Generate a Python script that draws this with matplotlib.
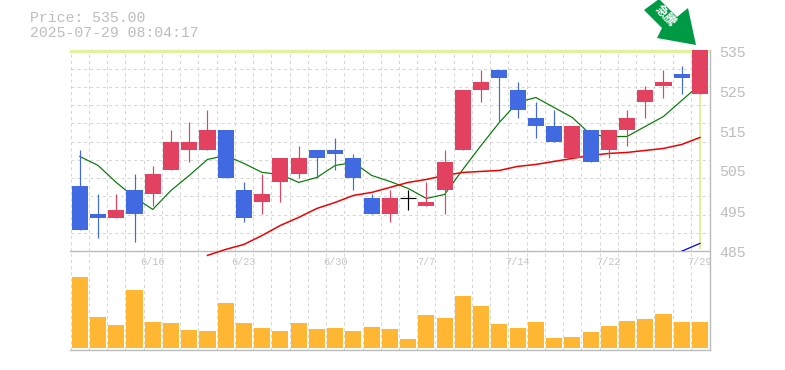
import numpy as np
import matplotlib
matplotlib.use('Agg')
import matplotlib.pyplot as plt
from matplotlib.patches import Polygon

W, H = 785, 370

# 日足: 始値, 終値, 高値, 安値
opens = [501, 494, 493, 500, 499, 505, 510, 510, 515, 500, 497, 502, 504, 510, 510, 508, 498, 494,
         498, 496, 500, 510, 525, 530, 525, 518, 516, 508, 515, 510, 515, 522, 526, 529, 524]
closes = [490, 493, 495, 494, 504, 512, 512, 515, 503, 493, 499, 508, 508, 508, 509, 503, 494, 498,
          498, 497, 507, 525, 527, 528, 520, 516, 512, 516, 507, 515, 518, 525, 527, 528, 535]
highs = [510, 499, 499, 504, 506, 515, 517, 520, 515, 502, 504, 508, 511, 510, 513, 509, 499, 500,
         500, 502, 510, 525, 530, 530, 527, 522, 520, 516, 515, 515, 520, 526, 530, 531, 535]
lows = [490, 488, 493, 487, 496, 505, 507, 510, 503, 492, 494, 497, 503, 503, 505, 500, 494, 492,
        495, 496, 494, 510, 522, 517, 518, 513, 512, 508, 507, 508, 511, 518, 523, 524, 524]
ma5 = [508.5, 506.25, 502, 498.25, 495.25, 500, 503.75, 507.75, 508.75, 506.75, 504.5, 504, 502, 503.25,
       506.25, 507, 503.75, 502.25, 500.5, 498, 499, 505.25, 511.25, 517, 522, 523.25, 520.75, 518.25,
       514, 513.5, 513.5, 516, 518.5, 522.5, 526.5]
ma25 = [np.nan] * 7 + [483.75, 485.25, 486.5, 488.75, 491.25, 493.25, 495.5, 497, 498.75, 499.5, 500.75,
                       502, 502.75, 503.75, 504.5, 504.75, 505, 506, 506.5, 507.25, 508, 508.75, 509.25,
                       509.5, 510, 510.5, 511.5, 513.25]
ma75 = [np.nan] * 33 + [484.8, 486.75]
volumes = [71, 31, 23, 58, 26, 25, 18, 17, 45, 25, 20, 17, 25, 19, 20, 17, 21, 19, 9, 33, 30, 52, 42, 24,
           20, 26, 10, 11, 16, 22, 27, 29, 34, 26, 26]
date_idx = [4, 9, 14, 19, 24, 29, 34]
date_labels = ['6/16', '6/23', '6/30', '7/7', '7/14', '7/22', '7/29']
price_ticks = [535, 525, 515, 505, 495, 485]

UP, DOWN, GRID, TXT = '#e24260', '#4169e1', '#d6d6d6', '#bdbdbd'
MONO = 'Liberation Mono'

fig = plt.figure(figsize=(W / 100, H / 100), dpi=100)

def make_ax(l, t, r, b):
    return fig.add_axes([l / W, 1 - b / H, (r - l) / W, (b - t) / H])

X0, X1 = -0.51, 34.55
ax = make_ax(70.5, 50.5, 710, 251.2)
ax2 = make_ax(70.5, 251.2, 710, 350)
ax.set_xlim(X0, X1); ax2.set_xlim(X0, X1)
ax.set_ylim(484.8, 535)
ax2.set_ylim(-2, 96.8)
ax.set_zorder(2)
ax.patch.set_visible(False)

grid_x = np.arange(35) - 0.5
for a in (ax, ax2):
    a.set_xticks([]); a.set_yticks([])
    for s in a.spines.values():
        s.set_visible(False)
    for gx in grid_x:
        a.axvline(gx, color=GRID, lw=0.75, dashes=(3, 3), zorder=1)
for k in range(1, 11):
    ax.axhline(535 - k * 50.2 / 11, color=GRID, lw=0.75, dashes=(3, 3), zorder=1)

# 最新値のハイライト
ax.plot([X0, X1 - 0.1], [535, 535], color='#dff29c', lw=2.2, zorder=2, clip_on=False)
ax.bar(34, 49.75, bottom=485.25, width=0.16, color='#dff29c', zorder=2)

xs = np.arange(35)
ax.plot(xs, ma5, color='#007a00', lw=0.85, zorder=3)
ax.plot(xs, ma25, color='#f00000', lw=1.1, zorder=3, clip_on=False)
ax.plot(xs, ma75, color='#0000e0', lw=0.9, zorder=3)

for i in range(35):
    o, c = opens[i], closes[i]
    col = 'black' if o == c else (UP if c > o else DOWN)
    ax.vlines(i, lows[i], highs[i], color=col, lw=0.85, zorder=4)
    if o == c:
        ax.hlines(o, i - 0.44, i + 0.44, color=col, lw=0.85, zorder=4)
    else:
        ax.bar(i, abs(c - o), bottom=min(o, c), width=0.88, color=col, lw=0, zorder=5, clip_on=False)

ax2.bar(xs, volumes, width=0.88, color='#ffb733', lw=0, zorder=3)

# 枠線
line = '#bbbbbb'
fig.add_artist(plt.Line2D([70 / W, 710 / W], [1 - 250.7 / H] * 2, color=line, lw=1))
fig.add_artist(plt.Line2D([70 / W, 710 / W], [1 - 350 / H] * 2, color=line, lw=1))
fig.add_artist(plt.Line2D([710 / W] * 2, [1 - 50 / H, 1 - 350 / H], color=line, lw=1))

for i, lab in zip(date_idx, date_labels):
    ax2.text(i, 96.8 - 11, lab, ha='center', va='center', family=MONO, fontsize=7.4, color='#c4c4c4', zorder=6)

for p, y in zip(price_ticks, [53, 93, 133, 172, 213, 253]):
    fig.text(719 / W, 1 - y / H, str(p), ha='left', va='center', family=MONO, fontsize=10.7, color=TXT)

fig.text(30 / W, 1 - 18 / H, 'Price: 535.00', ha='left', va='center', family=MONO, fontsize=10.7, color=TXT)
fig.text(30 / W, 1 - 33 / H, '2025-07-29 08:04:17', ha='left', va='center', family=MONO, fontsize=10.7, color=TXT)

# 急騰マーク
px = [(644, 10), (662, 28), (657, 38), (696, 45), (688, 8), (677, 17), (659, -1)]
fig.add_artist(Polygon([(x / W, 1 - y / H) for x, y in px], closed=True, transform=fig.transFigure,
                       facecolor='#009944', edgecolor='none', zorder=10))
fig.text(665.5 / W, 1 - 15.5 / H, '急騰', rotation=-47, ha='center', va='center', rotation_mode='anchor',
         family=['Noto Sans CJK JP', 'DejaVu Sans'], fontsize=8.8, fontweight='bold', color='white', zorder=11)

fig.savefig('out.png', dpi=100)
